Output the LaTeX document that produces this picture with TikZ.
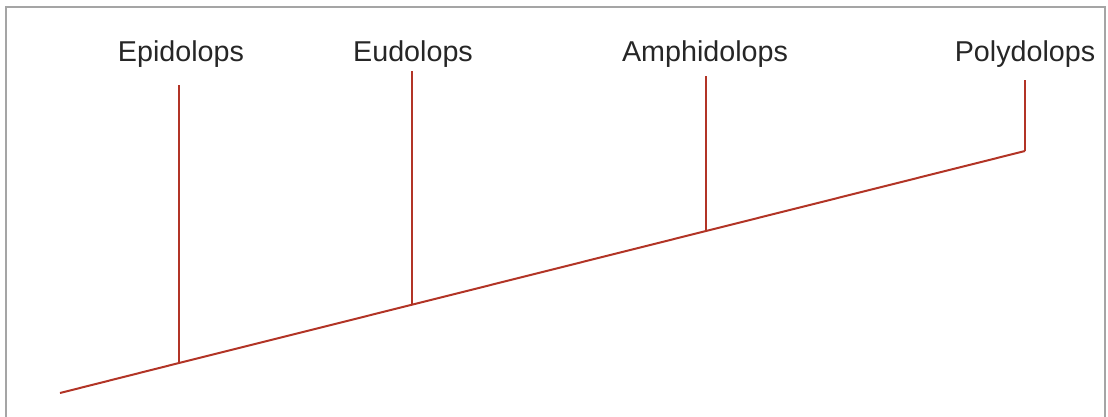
\documentclass[tikz,border=0pt]{standalone}
\usepackage{fontspec}
\setmainfont{Liberation Sans}
\definecolor{branch}{RGB}{178,52,38}
\definecolor{frame}{RGB}{165,165,165}
\begin{document}
\begin{tikzpicture}[x=1pt,y=-1pt,
  lbl/.style={anchor=base,inner sep=0pt,font=\fontsize{28.7}{34}\selectfont,text=black!85},
  br/.style={draw=branch,line width=2pt},
  fr/.style={draw=frame,line width=1.5pt}]
\useasboundingbox (0,0) rectangle (1108,416);
\draw[fr] (6,420) -- (6,7) -- (1105,7) -- (1105,420);
% taxon labels
\node[lbl] (epi) at (181,61) {Epidolops};
\node[lbl] (eud) at (413,61) {Eudolops};
\node[lbl] (amp) at (705,61) {Amphidolops};
\node[lbl] (pol) at (1025,61) {Polydolops};
% branch points
\coordinate (root) at (60,393);
\coordinate (n1) at (179,363);
\coordinate (n2) at (412,304.7);
\coordinate (n3) at (706,231);
\coordinate (n4) at (1025,151);
\coordinate (t1) at (179,85);
\coordinate (t2) at (412,71);
\coordinate (t3) at (706,76);
\coordinate (t4) at (1025,80);
\draw[br] (root) -- (n1) -- (n2) -- (n3) -- (n4);
\draw[br] (n1) -- (t1);
\draw[br] (n2) -- (t2);
\draw[br] (n3) -- (t3);
\draw[br] (n4) -- (t4);
\end{tikzpicture}
\end{document}
